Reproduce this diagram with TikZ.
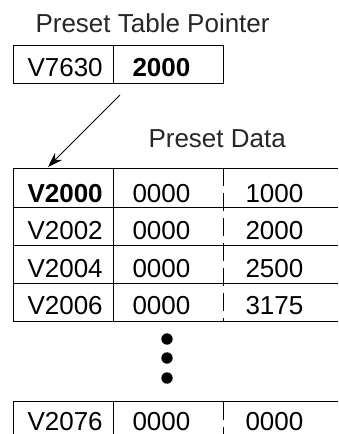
\documentclass[tikz,border=0pt]{standalone}
\usepackage{fontspec}
\setmainfont{Liberation Sans}
\usetikzlibrary{arrows.meta}
\begin{document}
\begin{tikzpicture}[
      x=1pt, y=-1pt, line width=1pt,
      every node/.style={font=\fontsize{26}{30}\selectfont, inner sep=0pt},
      txt/.style={anchor=base west},
      title/.style={anchor=base west, text=black!85},
      split/.style={dash pattern=on 18pt off 7pt},
      ptr/.style={line width=0.9pt, -{Stealth[length=15pt,width=10pt]}},
    ]
    \useasboundingbox (0,0) rectangle (338,434);

    % --- pointer register ---
    \node[title] (ptrtitle) at (35,32) {Preset Table Pointer};
    \draw (13,45) rectangle (223,83);
    \draw (113,45) -- (113,83);
    \node[txt] (ptraddr) at (27,76) {V7630};
    \node[txt, font=\fontsize{26}{30}\selectfont\bfseries] (ptrval) at (132,76) {2000};

    % --- preset data table ---
    \node[title] (datatitle) at (148,147) {Preset Data};
    \foreach \y in {168,207,245,283,321} {
      \draw (13,\y) -- (338,\y);
    }
    \draw (13,168) -- (13,321);
    \draw (113,168) -- (113,321);
    \draw[split] (223,168) -- (223,321);
    \foreach \addr/\hi/\lo [count=\r from 0] in
        {{\textbf{V2000}}/0000/1000, V2002/0000/2000,
         V2004/0000/2500, V2006/0000/3175} {
      \node[txt] (a\r) at (27,202+37.5*\r) {\addr};
      \node[txt] (h\r) at (132,202+37.5*\r) {\hi};
      \node[txt] (l\r) at (245,202+37.5*\r) {\lo};
    }

    % dots
    \foreach \y in {339,358,378} {
      \fill (167,\y) circle (5.7);
    }

    % last row
    \draw (13,434) -- (13,401) -- (338,401);
    \draw (113,401) -- (113,434);
    \draw[split] (223,402) -- (223,434);
    \node[txt] (alast) at (27,430) {V2076};
    \node[txt] (hlast) at (132,430) {0000};
    \node[txt] (llast) at (245,430) {0000};

    % pointer arrow
    \coordinate (tail) at (120,95);
    \coordinate (head) at (48,167);
    \draw[ptr] (tail) -- (head);
  \end{tikzpicture}
\end{document}
